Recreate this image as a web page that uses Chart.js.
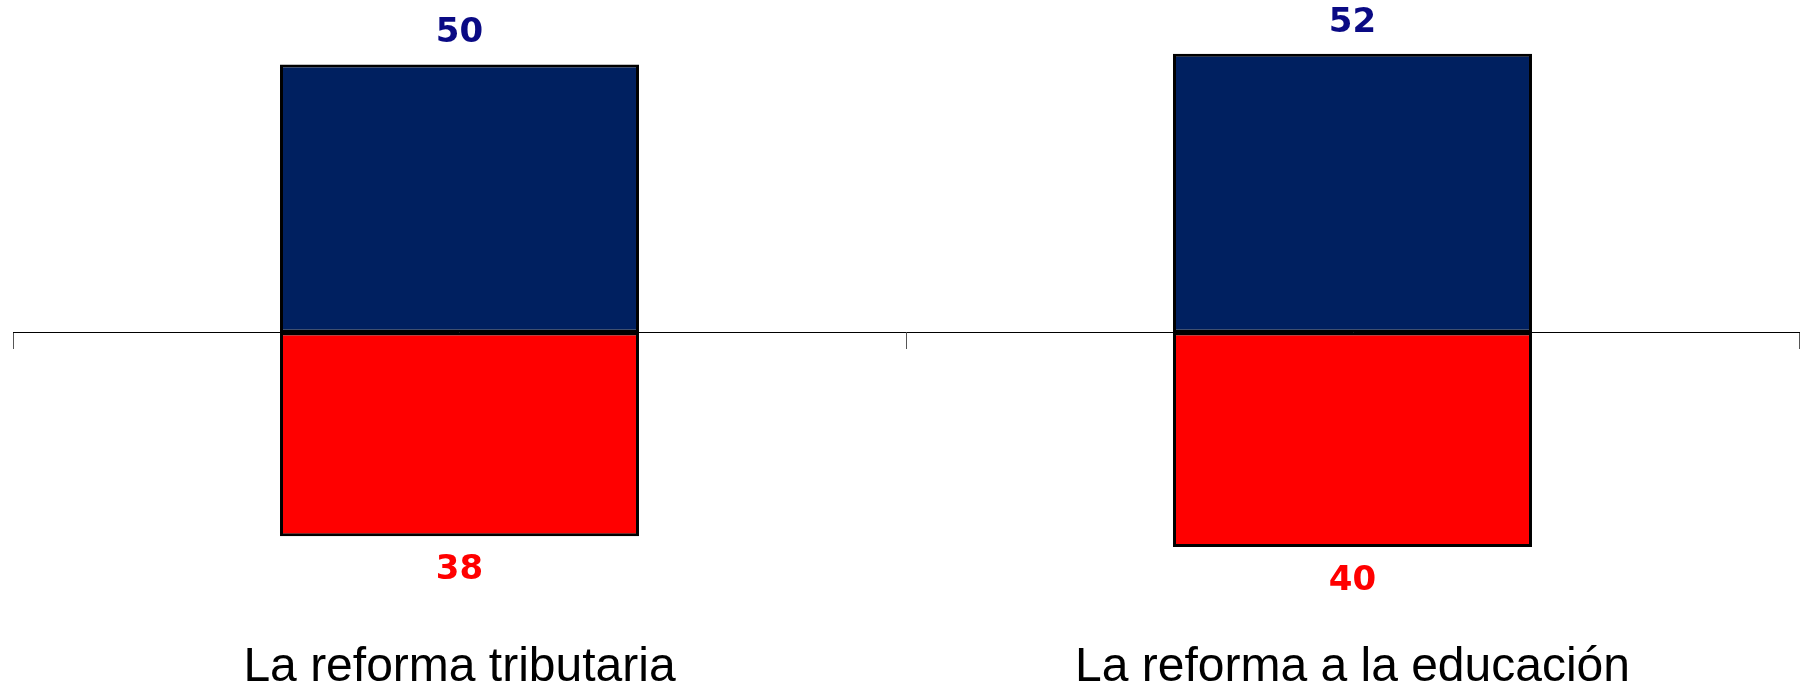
<!DOCTYPE html>
<html>
<head>
<meta charset="utf-8">
<script src="https://cdn.jsdelivr.net/npm/chart.js@4/dist/chart.umd.min.js"></script>
<style>
html,body{margin:0;padding:0;background:#fff;}
canvas{display:block;}
</style>
</head>
<body>
<canvas id="c" width="1806" height="685"></canvas>
<script>
const categories = ["La reforma tributaria", "La reforma a la educación"];
const favor = [50, 52];
const contra = [38, 40];

const valueLabels = {
  id: 'valueLabels',
  afterDatasetsDraw(chart) {
    const ctx = chart.ctx;
    ctx.save();
    ctx.font = 'bold 34px "DejaVu Sans", sans-serif';
    ctx.textAlign = 'center';
    ctx.textBaseline = 'middle';
    chart.data.datasets.forEach((ds, di) => {
      const meta = chart.getDatasetMeta(di);
      meta.data.forEach((el, i) => {
        const v = ds.data[i];
        const txt = String(Math.abs(v));
        if (v >= 0) {
          ctx.fillStyle = '#0A0A84';
          ctx.fillText(txt, el.x, el.y - 31);
        } else {
          ctx.fillStyle = '#FF0000';
          ctx.fillText(txt, el.x, el.y + 34);
        }
      });
    });
    ctx.restore();
  }
};

new Chart(document.getElementById('c'), {
  type: 'bar',
  data: {
    labels: categories,
    datasets: [
      {
        label: 'A favor',
        data: favor,
        backgroundColor: '#002060',
        borderColor: '#000000',
        borderWidth: 3,
        borderSkipped: false,
        barPercentage: 0.402,
        categoryPercentage: 1.0
      },
      {
        label: 'En contra',
        data: contra.map(v => -v),
        backgroundColor: '#FF0000',
        borderColor: '#000000',
        borderWidth: 3,
        borderSkipped: false,
        barPercentage: 0.402,
        categoryPercentage: 1.0
      }
    ]
  },
  options: {
    responsive: false,
    devicePixelRatio: 1,
    animation: false,
    layout: { padding: { left: 13, right: 7, top: 11, bottom: 0 } },
    plugins: { legend: { display: false }, tooltip: { enabled: false } },
    scales: {
      x: {
        stacked: true,
        position: 'bottom',
        grid: { display: false },
        border: { display: false },
        ticks: {
          padding: 0,
          color: '#000000',
          font: { family: '"Liberation Sans", Arial, sans-serif', size: 48, lineHeight: 0.7 }
        }
      },
      x2: {
        type: 'category',
        labels: categories,
        position: { y: 0 },
        offset: true,
        grid: { display: true, offset: true, drawOnChartArea: false, drawTicks: true, tickLength: 16, tickColor: '#555555', tickWidth: 1 },
        border: { display: true, color: '#000000', width: 1 },
        ticks: { display: false }
      },
      y: {
        stacked: true,
        display: false,
        min: -58,
        max: 60
      }
    }
  },
  plugins: [valueLabels]
});
</script>
</body>
</html>
